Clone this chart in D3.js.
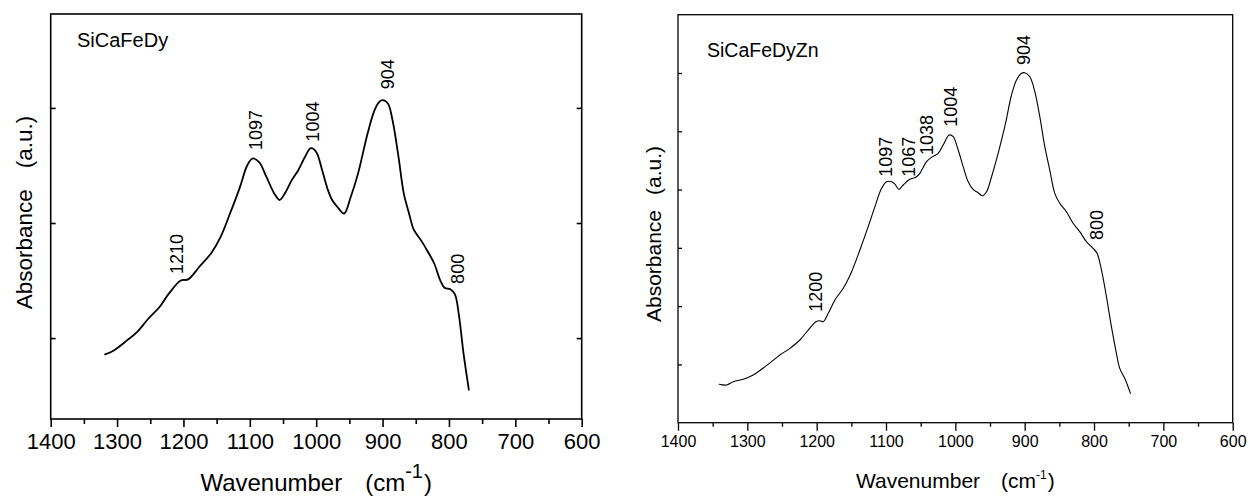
<!DOCTYPE html>
<html>
<head>
<meta charset="utf-8">
<script src="https://cdn.jsdelivr.net/npm/d3@7"></script>
<style>
  html, body { margin: 0; padding: 0; background: #fff; }
  svg { display: block; }
  text { font-family: "Liberation Sans", Arial, sans-serif; fill: #000; }
</style>
</head>
<body>
<svg id="chart" width="1250" height="497"></svg>
<script>
// ---------------- data ----------------
const xTickValues = [1400, 1300, 1200, 1100, 1000, 900, 800, 700, 600];
const xTickLabels = ["1400", "1300", "1200", "1100", "1000", "900", "800", "700", "600"];
const xMinorTicks = [1350, 1250, 1150, 1050, 950, 850, 750, 650];

// Left panel: SiCaFeDy
const leftTitle = "SiCaFeDy";
const leftWavenumber = [1318, 1305, 1285, 1270, 1253, 1236, 1222, 1204, 1193, 1176, 1158, 1144, 1130, 1115, 1104, 1096, 1086, 1075, 1063, 1055, 1046, 1037, 1027, 1017, 1008, 1000, 991, 983, 976, 966, 958, 948, 937, 922, 912, 905, 900, 892, 885, 876, 868, 860, 853, 842, 830, 822, 813, 806, 798, 791, 785, 778, 770];
const leftAbsorbance = [0.858, 0.893, 0.98, 1.052, 1.168, 1.27, 1.386, 1.50, 1.51, 1.62, 1.74, 1.88, 2.08, 2.31, 2.50, 2.56, 2.53, 2.40, 2.255, 2.20, 2.27, 2.37, 2.458, 2.574, 2.65, 2.617, 2.458, 2.298, 2.20, 2.125, 2.081, 2.226, 2.429, 2.791, 2.98, 3.052, 3.067, 3.038, 2.893, 2.574, 2.255, 2.081, 1.942, 1.849, 1.733, 1.646, 1.50, 1.435, 1.425, 1.38, 1.20, 0.864, 0.551];
const leftYTicks = [1, 2, 3];
const leftYDomain = [0.297, 3.816];
const leftPeakLabels = ["1210", "1097", "1004", "904", "800"];
const leftPeakWavenumber = [1200, 1082, 996, 883, 777];
const leftPeakAbsorbance = [1.556, 2.634, 2.707, 3.163, 1.471];

// Right panel: SiCaFeDyZn
const rightTitle = "SiCaFeDyZn";
const rightWavenumber = [1340.5, 1329.8, 1320.3, 1305.9, 1291.5, 1279.4, 1265, 1253, 1238.6, 1224.2, 1212.2, 1201.1, 1195.3, 1190.6, 1183.3, 1173.7, 1161.7, 1149.6, 1137.7, 1125.7, 1116, 1106.4, 1099.2, 1092, 1087.2, 1081.5, 1075.2, 1065.6, 1057, 1051.2, 1041.5, 1034.3, 1024.8, 1017.6, 1008.9, 1003.1, 995.9, 988.7, 981.5, 974.3, 967.1, 960.8, 955, 947.8, 938.3, 928.7, 919, 911.8, 904.6, 899.8, 892.6, 885.4, 878.2, 871, 863.8, 856.6, 849.4, 839.8, 830.2, 820.6, 811, 801.4, 795.6, 789.3, 782.1, 774.9, 767.7, 762.9, 755.7, 747.5];
const rightAbsorbance = [0.659, 0.647, 0.704, 0.744, 0.818, 0.916, 1.047, 1.161, 1.276, 1.419, 1.59, 1.733, 1.75, 1.733, 1.876, 2.105, 2.306, 2.591, 2.963, 3.363, 3.706, 4.021, 4.135, 4.135, 4.095, 4.004, 4.078, 4.176, 4.21, 4.278, 4.478, 4.553, 4.622, 4.764, 4.936, 4.907, 4.678, 4.392, 4.135, 4.004, 3.946, 3.895, 3.963, 4.22, 4.622, 5.078, 5.622, 5.879, 5.994, 6.005, 5.936, 5.679, 5.25, 4.735, 4.335, 3.935, 3.764, 3.62, 3.421, 3.277, 3.105, 2.992, 2.906, 2.62, 2.162, 1.647, 1.19, 0.933, 0.762, 0.504];
const rightYTicks = [1, 2, 3, 4, 5, 6];
const rightYDomain = [0, 7];
const rightPeakLabels = ["1200", "1097", "1067", "1038", "1004", "904", "800"];
const rightPeakWavenumber = [1192.4, 1091.5, 1058.4, 1031.7, 997.8, 892.6, 786.7];
const rightPeakAbsorbance = [1.904, 4.22, 4.22, 4.593, 5.078, 6.137, 3.134];

// ---------------- drawing ----------------
const svg = d3.select("#chart");

function drawPanel(cfg) {
  const g = svg.append("g");
  const x = d3.scaleLinear().domain([1400, 600]).range([cfg.left, cfg.right]);
  const y = d3.scaleLinear().domain(cfg.yDomain).range([cfg.bottom, cfg.top]);

  // frame
  g.append("rect")
    .attr("x", cfg.left).attr("y", cfg.top)
    .attr("width", cfg.right - cfg.left).attr("height", cfg.bottom - cfg.top)
    .attr("fill", "none").attr("stroke", "#000").attr("stroke-width", cfg.frameWidth);

  // bottom axis (ticks outward)
  const xAxis = d3.axisBottom(x)
    .tickValues(xTickValues)
    .tickFormat((d, i) => xTickLabels[i])
    .tickSize(cfg.majorTick)
    .tickPadding(cfg.tickPad);
  const ax = g.append("g").attr("transform", `translate(0,${cfg.bottom})`).call(xAxis);
  ax.select(".domain").remove();
  ax.selectAll(".tick line").attr("stroke", "#000").attr("stroke-width", cfg.frameWidth);
  ax.selectAll(".tick text")
    .attr("font-size", cfg.tickFont)
    .attr("font-family", "Liberation Sans, Arial, sans-serif")
    .attr("fill", "#000");

  const axm = g.append("g").attr("transform", `translate(0,${cfg.bottom})`)
    .call(d3.axisBottom(x).tickValues(xMinorTicks).tickSize(cfg.minorTick).tickFormat(""));
  axm.select(".domain").remove();
  axm.selectAll(".tick line").attr("stroke", "#000").attr("stroke-width", cfg.frameWidth);

  // left axis ticks (inward)
  const ay = g.append("g").attr("transform", `translate(${cfg.left},0)`)
    .call(d3.axisRight(y).tickValues(cfg.yTicks).tickSize(cfg.yTick).tickFormat(""));
  ay.select(".domain").remove();
  ay.selectAll(".tick line").attr("stroke", "#000").attr("stroke-width", cfg.frameWidth);

  if (cfg.rightTicks) {
    const ayr = g.append("g").attr("transform", `translate(${cfg.right},0)`)
      .call(d3.axisLeft(y).tickValues(cfg.yTicks).tickSize(cfg.yTick).tickFormat(""));
    ayr.select(".domain").remove();
    ayr.selectAll(".tick line").attr("stroke", "#000").attr("stroke-width", cfg.frameWidth);
  }

  // curve
  const pts = cfg.wn.map((w, i) => [w, cfg.abs[i]]);
  const line = d3.line().x(d => x(d[0])).y(d => y(d[1])).curve(d3.curveCatmullRom.alpha(0.5));
  g.append("path").datum(pts)
    .attr("d", line)
    .attr("fill", "none").attr("stroke", "#000")
    .attr("stroke-width", cfg.lineWidth)
    .attr("stroke-linejoin", "round").attr("stroke-linecap", "round");

  // peak labels
  cfg.peakLabels.forEach((t, i) => {
    const px = x(cfg.peakWn[i]), py = y(cfg.peakAbs[i]);
    g.append("text")
      .attr("transform", `translate(${px},${py}) rotate(-90)`)
      .attr("text-anchor", "start")
      .attr("font-size", cfg.peakFont)
      .text(t);
  });

  // title
  g.append("text").attr("x", cfg.titleX).attr("y", cfg.titleY)
    .attr("font-size", cfg.titleFont).text(cfg.title);

  // x label
  const xl = g.append("text")
    .attr("x", (cfg.left + cfg.right) / 2)
    .attr("y", cfg.xLabelY)
    .attr("text-anchor", "middle")
    .attr("font-size", cfg.xLabelFont);
  xl.append("tspan").text("Wavenumber");
  xl.append("tspan").attr("dx", cfg.xLabelGap).text("(cm");
  xl.append("tspan").attr("dy", -cfg.supRaise).attr("font-size", cfg.supFont).text("-1");
  xl.append("tspan").attr("dy", cfg.supRaise).attr("dx", 1).text(")");

  // y label
  const yl = g.append("text")
    .attr("transform", `translate(${cfg.yLabelX},${cfg.yLabelY}) rotate(-90)`)
    .attr("text-anchor", "middle")
    .attr("font-size", cfg.yLabelFont);
  yl.append("tspan").text("Absorbance");
  yl.append("tspan").attr("dx", cfg.yLabelGap).text("(a.u.)");
}

drawPanel({
  left: 50.7, right: 581.7, top: 14, bottom: 419,
  yDomain: leftYDomain, yTicks: leftYTicks,
  wn: leftWavenumber, abs: leftAbsorbance,
  peakLabels: leftPeakLabels, peakWn: leftPeakWavenumber, peakAbs: leftPeakAbsorbance,
  frameWidth: 1.6, lineWidth: 1.8,
  majorTick: 8, minorTick: 5, yTick: 5, tickPad: 6, tickFont: 22, rightTicks: true,
  peakFont: 18,
  title: leftTitle, titleX: 77, titleY: 46.5, titleFont: 20,
  xLabelY: 491, xLabelFont: 24, xLabelGap: 23, supFont: 20, supRaise: 13,
  yLabelX: 32, yLabelY: 212.5, yLabelFont: 22.5, yLabelGap: 21
});

drawPanel({
  left: 678, right: 1232.7, top: 14.7, bottom: 422.7,
  yDomain: rightYDomain, yTicks: rightYTicks,
  wn: rightWavenumber, abs: rightAbsorbance,
  peakLabels: rightPeakLabels, peakWn: rightPeakWavenumber, peakAbs: rightPeakAbsorbance,
  frameWidth: 1.3, lineWidth: 1.1,
  majorTick: 8, minorTick: 4, yTick: 4, tickPad: 5, tickFont: 16, rightTicks: false,
  peakFont: 18,
  title: rightTitle, titleX: 707, titleY: 57, titleFont: 19.5,
  xLabelY: 488, xLabelFont: 21, xLabelGap: 21, supFont: 12, supRaise: 9,
  yLabelX: 660.5, yLabelY: 234, yLabelFont: 21, yLabelGap: 15
});
</script>
</body>
</html>
